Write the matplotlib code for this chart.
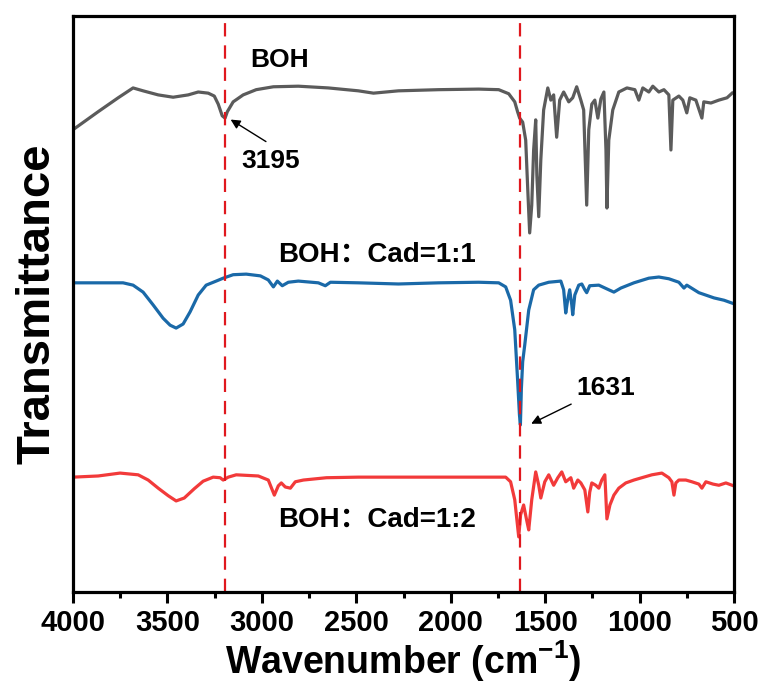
import numpy as np
import matplotlib
matplotlib.use("Agg")
import matplotlib.pyplot as plt
from matplotlib.ticker import MultipleLocator

# FTIR spectra (wavenumber in cm-1, transmittance in a.u., offset)
boh_wn = [4000, 3867, 3761, 3682, 3629, 3549, 3470, 3390, 3337, 3284, 3252, 3231, 3210, 3195,
          3183, 3152, 3099, 3030, 2939, 2807, 2648, 2489, 2409, 2277, 2064, 1852, 1746, 1693,
          1661, 1646, 1635, 1619, 1603, 1592, 1582, 1571, 1561, 1550, 1544, 1534, 1523, 1508,
          1486, 1470, 1455, 1439, 1423, 1402, 1375, 1354, 1333, 1311, 1296, 1280, 1269, 1253,
          1237, 1221, 1205, 1189, 1178, 1173, 1163, 1142, 1110, 1067, 1025, 1004, 983, 951,
          930, 898, 871, 845, 834, 824, 792, 771, 750, 734, 702, 670, 660, 622, 580, 537, 510]
boh_t = [79.7, 82.8, 85.2, 86.9, 86.4, 85.7, 85.3, 85.7, 86.2, 86.0, 85.5, 84.1, 82.1, 81.7,
         82.8, 84.5, 85.7, 86.6, 87.1, 87.2, 86.9, 86.4, 86.0, 86.4, 86.6, 86.7, 86.6, 85.9,
         84.5, 82.8, 81.7, 81.0, 77.9, 69.3, 61.9, 66.7, 76.2, 81.4, 71.9, 64.7, 74.5, 83.1,
         86.9, 84.8, 85.7, 78.4, 84.8, 86.2, 84.5, 85.2, 87.1, 84.8, 83.1, 66.7, 79.7, 84.1,
         84.8, 81.7, 85.0, 86.2, 76.2, 66.2, 77.9, 83.1, 86.2, 86.9, 86.6, 84.8, 86.9, 86.2,
         87.2, 86.2, 86.6, 85.7, 76.2, 84.8, 85.5, 84.8, 82.6, 85.2, 84.8, 81.7, 84.5, 84.3,
         84.8, 85.2, 86.0]

mix11_wn = [4000, 3867, 3735, 3682, 3629, 3576, 3523, 3486, 3454, 3417, 3380, 3337, 3295, 3242,
            3205, 3152, 3083, 3008, 2966, 2939, 2918, 2892, 2860, 2807, 2701, 2664, 2637, 2489,
            2277, 2064, 1852, 1746, 1709, 1683, 1661, 1646, 1636, 1631, 1626, 1619, 1608, 1587,
            1561, 1534, 1481, 1417, 1402, 1391, 1381, 1370, 1359, 1354, 1343, 1322, 1306, 1290,
            1280, 1264, 1216, 1163, 1136, 1099, 1030, 951, 898, 845, 792, 765, 750, 686, 606,
            553, 510]
mix11_t = [53.3, 53.3, 53.3, 52.9, 51.7, 49.5, 47.2, 46.0, 45.5, 46.2, 48.3, 51.2, 52.9, 53.6,
           54.1, 54.7, 54.8, 54.5, 53.8, 52.6, 53.6, 52.8, 53.4, 53.6, 53.3, 52.8, 53.4, 53.3,
           53.1, 53.3, 53.4, 53.3, 52.6, 50.3, 45.2, 36.6, 30.5, 28.8, 35.0, 39.7, 42.6, 48.6,
           52.1, 52.9, 53.4, 53.6, 52.1, 48.1, 50.3, 52.1, 49.5, 47.8, 51.2, 52.9, 53.1, 52.1,
           51.6, 52.8, 52.9, 52.1, 51.7, 52.4, 53.3, 54.1, 54.3, 54.0, 53.4, 52.4, 52.9, 51.6,
           50.7, 50.3, 49.8]

mix12_wn = [4000, 3867, 3751, 3655, 3602, 3549, 3496, 3454, 3411, 3358, 3311, 3258, 3221, 3205,
            3178, 3136, 3019, 2966, 2934, 2913, 2897, 2876, 2849, 2823, 2780, 2658, 2489, 2277,
            2064, 1852, 1709, 1683, 1661, 1640, 1630, 1614, 1598, 1587, 1571, 1550, 1534, 1523,
            1502, 1481, 1455, 1433, 1412, 1391, 1364, 1349, 1327, 1311, 1290, 1274, 1264, 1253,
            1232, 1216, 1200, 1184, 1173, 1157, 1136, 1110, 1073, 1030, 988, 935, 882, 845, 829,
            818, 808, 792, 755, 723, 686, 670, 649, 611, 580, 543, 510]
mix12_t = [19.8, 20.0, 20.5, 20.2, 19.3, 17.9, 16.6, 15.7, 16.2, 17.8, 19.1, 19.8, 19.7, 19.3,
           19.8, 20.2, 20.0, 19.3, 16.7, 18.3, 18.8, 18.1, 17.9, 19.0, 19.3, 19.7, 19.8, 19.8,
           19.8, 19.8, 19.8, 19.0, 15.9, 9.5, 13.3, 15.0, 12.4, 10.7, 15.9, 20.7, 18.4, 16.2,
           19.0, 20.2, 18.4, 19.7, 20.7, 19.0, 19.7, 17.9, 19.3, 18.8, 17.6, 13.8, 17.2, 18.8,
           18.4, 17.9, 19.3, 20.2, 12.6, 15.0, 16.7, 17.9, 18.8, 19.3, 19.7, 20.2, 20.5, 19.7,
           19.0, 16.7, 18.8, 19.3, 19.3, 19.0, 18.6, 17.9, 19.0, 18.6, 18.4, 18.8, 18.4]

marked_peaks = [3195, 1631]
labels = ["BOH", "BOH：Cad=1:1", "BOH：Cad=1:2"]
colors = ["#5b5b5b", "#1a69a8", "#f23a3a"]

sans = ["Liberation Sans", "Noto Sans CJK SC", "DejaVu Sans"]
plt.rcParams["font.family"] = sans
plt.rcParams["font.weight"] = "bold"
plt.rcParams["mathtext.fontset"] = "custom"
plt.rcParams["mathtext.rm"] = "Liberation Sans:bold"
plt.rcParams["mathtext.bf"] = "Liberation Sans:bold"

fig = plt.figure(figsize=(7.63, 6.87), dpi=100)
ax = fig.add_axes([0.0957, 0.1383, 0.8663, 0.8384])

for wn, t, c in zip([boh_wn, mix11_wn, mix12_wn], [boh_t, mix11_t, mix12_t], colors):
    ax.plot(wn, t, color=c, lw=2.3, solid_joinstyle="round")

for p in marked_peaks:
    ax.axvline(p, color="#e0181e", lw=1.6, dashes=(6, 4))

ax.set_xlim(4000, 500)
ax.set_ylim(0, 99.3)
ax.xaxis.set_major_locator(MultipleLocator(500))
ax.xaxis.set_minor_locator(MultipleLocator(250))
ax.set_yticks([])
ax.tick_params(axis="x", which="major", direction="out", length=8, width=2.2, pad=4,
               labelsize=21)
ax.tick_params(axis="x", which="minor", direction="out", length=4.5, width=2.2)
for lab in ax.get_xticklabels():
    lab.set_fontweight("bold")
for s in ax.spines.values():
    s.set_linewidth(2.3)

ax.set_xlabel("Wavenumber (cm$^{\\mathbf{-1}}$)", fontsize=27, fontweight="bold", labelpad=1)
ax.set_ylabel("Transmittance", fontsize=34, fontweight="bold", labelpad=10)

txt = dict(fontweight="bold", ha="center", va="center", fontsize=19)
ax.text(2908, 91.7, labels[0], **txt)
ax.text(2388, 58.1, labels[1], fontsize=20, **{k: v for k, v in txt.items() if k != "fontsize"})
ax.text(2388, 12.4, labels[2], fontsize=20, **{k: v for k, v in txt.items() if k != "fontsize"})

arrow = dict(arrowstyle="-|>", color="black", lw=1.0, mutation_scale=14)
ax.text(2955, 74.3, "3195", **txt)
ax.annotate("", xy=(3178, 81.7), xytext=(2966, 77.4), arrowprops=arrow)
ax.text(1179, 35.2, "1631", **txt)
ax.annotate("", xy=(1587, 28.8), xytext=(1349, 32.6), arrowprops=arrow)

fig.savefig("out.png", dpi=100)
